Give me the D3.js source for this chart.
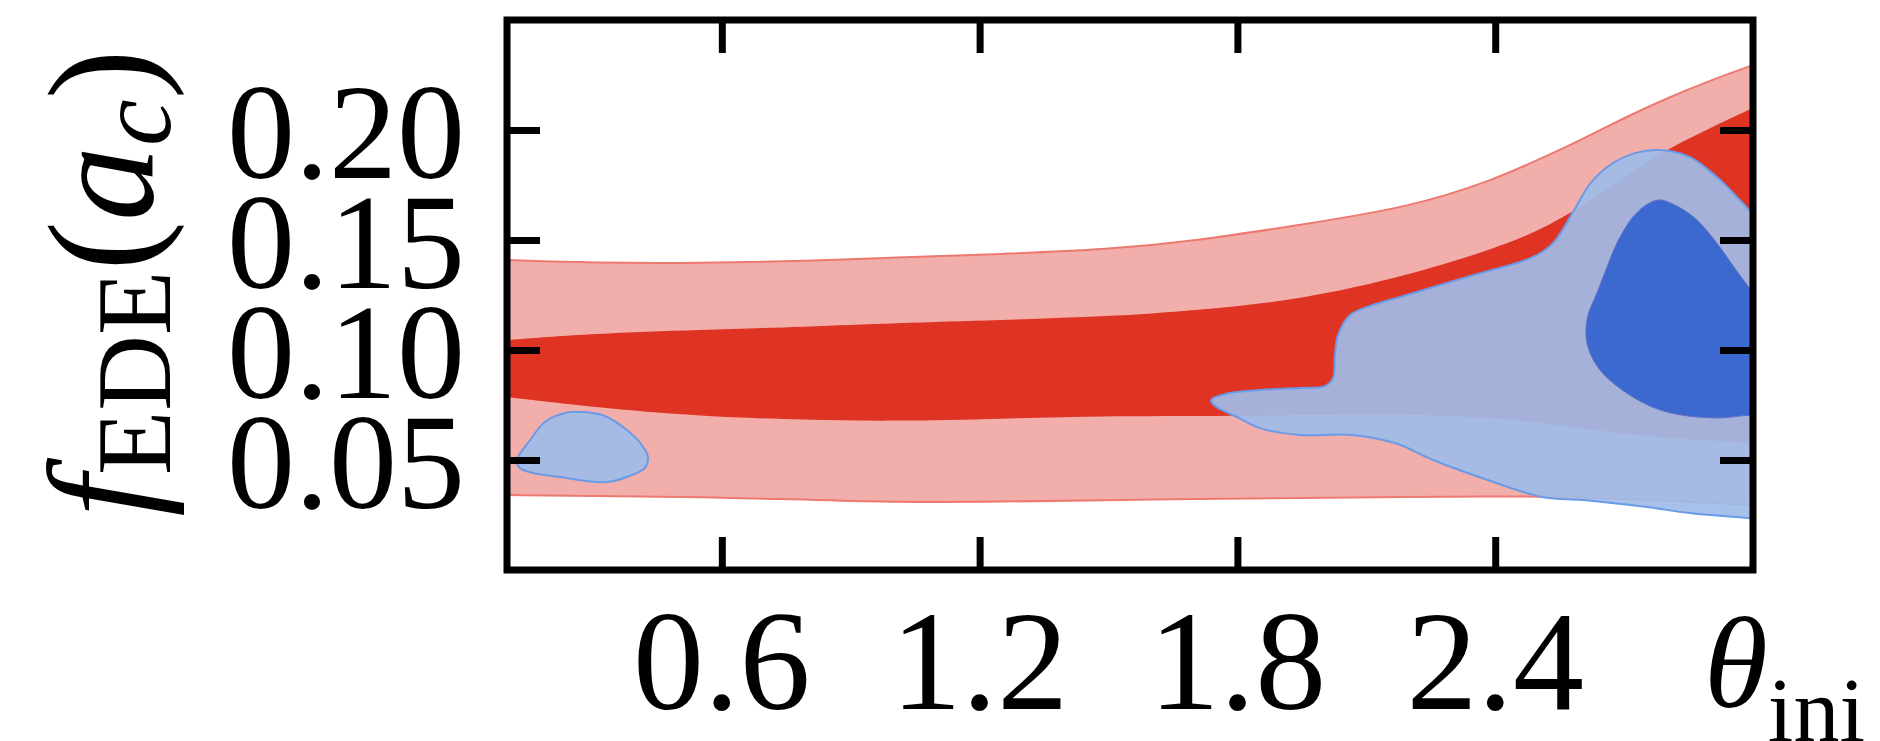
<!DOCTYPE html>
<html>
<head>
<meta charset="utf-8">
<script src="https://cdn.jsdelivr.net/npm/d3@7"></script>
<style>
  html, body { margin: 0; padding: 0; background: #fff; }
  svg { display: block; }
  text { font-family: "Liberation Serif", "DejaVu Serif", serif; fill: #000; }
</style>
</head>
<body>
<div id="chart"></div>
<script>
// theta grid shared by the red (posterior) bands
const thetaGrid = [0.1, 0.3, 0.55, 0.8, 1.0, 1.25, 1.5, 1.7, 1.95, 2.2, 2.4, 2.5, 2.6, 2.7, 2.8, 2.9, 3.0];
const red95Lo = [0.0341, 0.0336, 0.0332, 0.0320, 0.0308, 0.0310, 0.0318, 0.0323, 0.0327, 0.0332, 0.0335, 0.0334, 0.0330, 0.0323, 0.0316, 0.0305, 0.0295];
const red95Hi = [0.1409, 0.1396, 0.1395, 0.1405, 0.1420, 0.1436, 0.1457, 0.1495, 0.1570, 0.1648, 0.1775, 0.1865, 0.1955, 0.2055, 0.2145, 0.2225, 0.2295];
const red68Lo = [0.0786, 0.0740, 0.0698, 0.0682, 0.0676, 0.0688, 0.0700, 0.0698, 0.0705, 0.0710, 0.0691, 0.0670, 0.0645, 0.0618, 0.0600, 0.0588, 0.0577];
const red68Hi = [0.1045, 0.1075, 0.1091, 0.1106, 0.1122, 0.1136, 0.1152, 0.1180, 0.1228, 0.1340, 0.1462, 0.1540, 0.1650, 0.1780, 0.1915, 0.2009, 0.2100];

// blue contours, [theta, f]
const blueSmall95 = [
  [0.123, 0.050], [0.154, 0.0591], [0.188, 0.0673], [0.235, 0.0714], [0.277, 0.0718],
  [0.328, 0.0700], [0.379, 0.0636], [0.414, 0.0568], [0.428, 0.0514], [0.421, 0.0464],
  [0.379, 0.0423], [0.333, 0.0400], [0.282, 0.0405], [0.223, 0.0423], [0.161, 0.0441], [0.130, 0.0464]
];
const blueBig95 = [
  [1.7385, 0.0773], [1.7711, 0.0800], [1.8525, 0.0818], [1.9456, 0.0827], [2.0038, 0.0836],
  [2.0224, 0.0873], [2.0271, 0.0977], [2.0341, 0.1068], [2.0620, 0.1159], [2.1085, 0.1200],
  [2.1784, 0.1241], [2.3343, 0.1332], [2.4879, 0.1423], [2.5345, 0.1486], [2.5810, 0.1627],
  [2.6206, 0.1755], [2.6671, 0.1841], [2.7253, 0.1895], [2.7835, 0.1909], [2.8533, 0.1877],
  [2.9162, 0.1786], [2.9627, 0.1695], [3.0000, 0.1614], [3.0280, 0.1523], [3.0280, 0.0227],
  [2.9883, 0.0236], [2.8510, 0.0259], [2.7532, 0.0286], [2.6043, 0.0318], [2.5089, 0.0332],
  [2.3622, 0.0423], [2.2552, 0.0500], [2.1667, 0.0577], [2.0667, 0.0614], [1.9456, 0.0614],
  [1.8525, 0.0645], [1.7943, 0.0700], [1.7478, 0.0745]
];
const blue68 = [
  [2.7835, 0.1682], [2.8250, 0.1652], [2.8700, 0.1590], [2.9200, 0.1475], [2.9600, 0.1365],
  [3.0000, 0.1260], [3.0300, 0.1180], [3.0300, 0.0705], [2.9860, 0.0703], [2.9162, 0.0691],
  [2.7998, 0.0718], [2.7206, 0.0786], [2.6439, 0.0909], [2.6136, 0.1032], [2.6150, 0.1150],
  [2.6369, 0.1259], [2.6602, 0.1377], [2.6834, 0.1486], [2.7206, 0.1605], [2.7555, 0.1664]
];

const xTicks = [0.6, 1.2, 1.8, 2.4];
const xTickLabels = ["0.6", "1.2", "1.8", "2.4"];
const yTicks = [0.05, 0.10, 0.15, 0.20];
const yTickLabels = ["0.05", "0.10", "0.15", "0.20"];

const width = 1880, height = 741;
const plot = { left: 507, right: 1753, top: 20, bottom: 570 };

const x = d3.scaleLinear().domain([0.1, 3.0]).range([plot.left, plot.right]);
const y = d3.scaleLinear().domain([0, 0.25]).range([plot.bottom, plot.top]);

const svg = d3.select("#chart").append("svg")
  .attr("width", width)
  .attr("height", height);

svg.append("clipPath").attr("id", "plotClip")
  .append("rect")
  .attr("x", plot.left).attr("y", plot.top)
  .attr("width", plot.right - plot.left).attr("height", plot.bottom - plot.top);

const g = svg.append("g").attr("clip-path", "url(#plotClip)");

const bandData = thetaGrid.map((t, i) => ({
  t, lo95: red95Lo[i], hi95: red95Hi[i], lo68: red68Lo[i], hi68: red68Hi[i]
}));

const curve = d3.curveBasis;

// red 95% band
g.append("path")
  .datum(bandData)
  .attr("fill", "#f2aeaa")
  .attr("d", d3.area().curve(curve).x(d => x(d.t)).y0(d => y(d.lo95)).y1(d => y(d.hi95)));

["lo95", "hi95"].forEach(k => {
  g.append("path")
    .datum(bandData)
    .attr("fill", "none")
    .attr("stroke", "#ec7a70")
    .attr("stroke-width", 2)
    .attr("d", d3.line().curve(curve).x(d => x(d.t)).y(d => y(d[k])));
});

// red 68% band
g.append("path")
  .datum(bandData)
  .attr("fill", "#df3323")
  .attr("d", d3.area().curve(curve).x(d => x(d.t)).y0(d => y(d.lo68)).y1(d => y(d.hi68)));

// blue contours
const blob = d3.line().curve(d3.curveCatmullRomClosed.alpha(0.5)).x(d => x(d[0])).y(d => y(d[1]));

[blueSmall95, blueBig95].forEach(pts => {
  g.append("path")
    .datum(pts)
    .attr("fill", "rgb(160,188,232)")
    .attr("fill-opacity", 0.92)
    .attr("stroke", "#6b9ae6")
    .attr("stroke-width", 2)
    .attr("d", blob);
});

g.append("path")
  .datum(blue68)
  .attr("fill", "#3c69d0")
  .attr("stroke", "#5d6fc4")
  .attr("stroke-width", 1)
  .attr("d", blob);

// axes: ticks pointing inward on all four sides
const tickLen = 33;
const axes = [
  { ax: d3.axisBottom(x).tickValues(xTicks), tr: `translate(0,${plot.bottom})` },
  { ax: d3.axisTop(x).tickValues(xTicks), tr: `translate(0,${plot.top})` },
  { ax: d3.axisLeft(y).tickValues(yTicks), tr: `translate(${plot.left},0)` },
  { ax: d3.axisRight(y).tickValues(yTicks), tr: `translate(${plot.right},0)` }
];
axes.forEach(a => {
  const ag = svg.append("g")
    .attr("transform", a.tr)
    .call(a.ax.tickSizeInner(-tickLen).tickSizeOuter(0).tickFormat(""));
  ag.select(".domain").remove();
  ag.selectAll(".tick line").attr("stroke", "#000").attr("stroke-width", 7);
});

svg.append("rect")
  .attr("x", plot.left).attr("y", plot.top)
  .attr("width", plot.right - plot.left).attr("height", plot.bottom - plot.top)
  .attr("fill", "none")
  .attr("stroke", "#000")
  .attr("stroke-width", 7);

// tick labels
svg.append("g").selectAll("text")
  .data(xTicks)
  .enter().append("text")
  .attr("x", d => x(d))
  .attr("y", 709)
  .attr("text-anchor", "middle")
  .attr("font-size", 142)
  .text((d, i) => xTickLabels[i]);

svg.append("g").selectAll("text")
  .data(yTicks)
  .enter().append("text")
  .attr("x", 465)
  .attr("y", d => y(d) + 48)
  .attr("text-anchor", "end")
  .attr("font-size", 136)
  .text((d, i) => yTickLabels[i]);

// x label: theta_ini
const xl = svg.append("text")
  .attr("x", 1704)
  .attr("y", 707)
  .attr("font-size", 130);
xl.append("tspan").attr("font-style", "italic").text("θ");
xl.append("tspan").attr("font-size", 92).attr("dy", 34).text("ini");

// y label: f_EDE(a_c), rotated
const yl = svg.append("text")
  .attr("transform", "translate(152,283) rotate(-90)")
  .attr("text-anchor", "middle")
  .attr("font-size", 150);
yl.append("tspan").attr("font-style", "italic").text("f");
yl.append("tspan").attr("font-size", 105).attr("dy", 18).text("EDE");
yl.append("tspan").attr("dy", -18).text("(");
yl.append("tspan").attr("font-style", "italic").text("a");
yl.append("tspan").attr("font-style", "italic").attr("font-size", 105).attr("dy", 18).text("c");
yl.append("tspan").attr("dy", -18).text(")");
</script>
</body>
</html>
